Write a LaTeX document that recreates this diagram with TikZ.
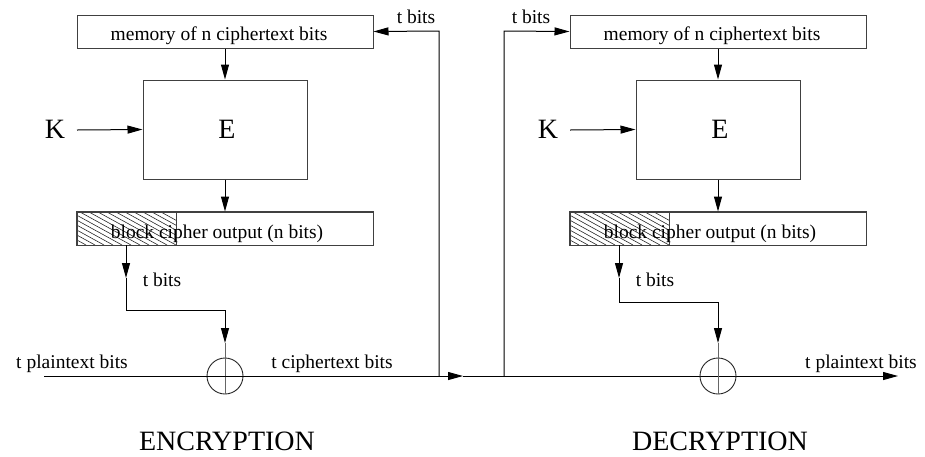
\documentclass[tikz,border=0pt]{standalone}
\usepackage{fontspec}
\setmainfont{Liberation Serif}
\usetikzlibrary{arrows.meta}
\begin{document}
\begin{tikzpicture}[x=1pt,y=-1pt,
  box/.style={draw=black!75,line width=1pt,rectangle,inner sep=0pt},
  xorc/.style={draw=black!85,line width=0.9pt,circle,minimum size=36pt,inner sep=0pt},
  wire/.style={line width=1pt,black},
  arr/.style={wire,-{Triangle[length=15pt,width=8pt]}},
  small/.style={font=\fontsize{19.5}{22}\selectfont,inner sep=0pt,anchor=base},
  big/.style={font=\fontsize{28}{32}\selectfont,inner sep=0pt,anchor=base},
  hatch/.style={line width=0.6pt,black!85}]
\useasboundingbox (0,0) rectangle (925,456);

% ---------- ENCRYPTION ----------
\node[box,minimum width=296pt,minimum height=33pt] (memE) at (225,31.5) {};
\node[small] (memEt) at (219,40) {memory of n ciphertext bits};
\node[box,minimum width=164pt,minimum height=99pt] (EE) at (225,129.5) {};
\node[big] (EEt) at (227,138) {E};
\node[big] (KE) at (55,138) {K};
\node[box,minimum width=296pt,minimum height=33pt] (outE) at (225,228.5) {};
\begin{scope}
  \clip (77,212) rectangle (176,245);
  \foreach \i in {0,...,16} {\draw[hatch] (17+\i*9,212) -- ++(60,33);}
\end{scope}
\draw[box] (77,212) rectangle (176,245);
\draw[box] (outE.south west) rectangle (outE.north east);
\node[small] (outEt) at (217,238) {block cipher output (n bits)};
\node[xorc] (xE) at (225,376) {};

\draw[arr] (memE.south) -- (EE.north);
\draw[arr] (EE.south) -- (outE.north);
\draw[arr] (77,130) -- (EE.west);

\coordinate (tE1) at (126,245);
\coordinate (tE2) at (126,278);
\coordinate (tE3) at (126,310);
\coordinate (tE4) at (225,310);
\coordinate (tE5) at (225,343);
\draw[arr] (tE1) -- (tE2);
\draw[wire] (tE2) -- (tE3) -- (tE4);
\draw[arr] (tE4) -- (tE5);
\draw[line width=1pt,black!60] (tE5) -- (xE.south);
\node[small] (tbE) at (162,286) {t bits};

\coordinate (inE) at (44,376);
\coordinate (fbE) at (439,376);
\coordinate (midA) at (448,376);
\coordinate (midB) at (463,376);
\coordinate (fbD) at (504,376);
\coordinate (outD) at (898,376);
\draw[wire] (inE) -- (midA);
\draw[arr] (midA) -- (midB);
\draw[arr] (midB) -- (outD);

\node[small] (ptE) at (72,368) {t plaintext bits};
\node[small] (ctE) at (332,368) {t ciphertext bits};

\draw[arr] (fbE) -- (439,31) -- (memE.east);
\node[small] (tbE2) at (416,23) {t bits};

\node[big] (encT) at (227,450) {ENCRYPTION};

% ---------- DECRYPTION ----------
\node[box,minimum width=296pt,minimum height=33pt] (memD) at (718,31.5) {};
\node[small] (memDt) at (712,40) {memory of n ciphertext bits};
\node[box,minimum width=164pt,minimum height=99pt] (ED) at (718,129.5) {};
\node[big] (EDt) at (720,138) {E};
\node[big] (KD) at (548,138) {K};
\node[box,minimum width=296pt,minimum height=33pt] (outD2) at (718,228.5) {};
\begin{scope}
  \clip (570,212) rectangle (669,245);
  \foreach \i in {0,...,16} {\draw[hatch] (510+\i*9,212) -- ++(60,33);}
\end{scope}
\draw[box] (570,212) rectangle (669,245);
\draw[box] (outD2.south west) rectangle (outD2.north east);
\node[small] (outDt) at (710,238) {block cipher output (n bits)};
\node[xorc] (xD) at (718,376) {};

\draw[arr] (memD.south) -- (ED.north);
\draw[arr] (ED.south) -- (outD2.north);
\draw[arr] (570,130) -- (ED.west);

\coordinate (tD1) at (619,245);
\coordinate (tD2) at (619,278);
\coordinate (tD3) at (619,302);
\coordinate (tD4) at (718,302);
\coordinate (tD5) at (718,343);
\draw[arr] (tD1) -- (tD2);
\draw[wire] (tD2) -- (tD3) -- (tD4);
\draw[arr] (tD4) -- (tD5);
\draw[line width=1pt,black!60] (tD5) -- (xD.south);
\node[small] (tbD) at (655,286) {t bits};

\draw[arr] (fbD) -- (504,31) -- (memD.west);
\node[small] (tbD2) at (531,23) {t bits};

\node[small] (ptD) at (861,368) {t plaintext bits};
\node[big] (decT) at (720,450) {DECRYPTION};
\end{tikzpicture}
\end{document}
